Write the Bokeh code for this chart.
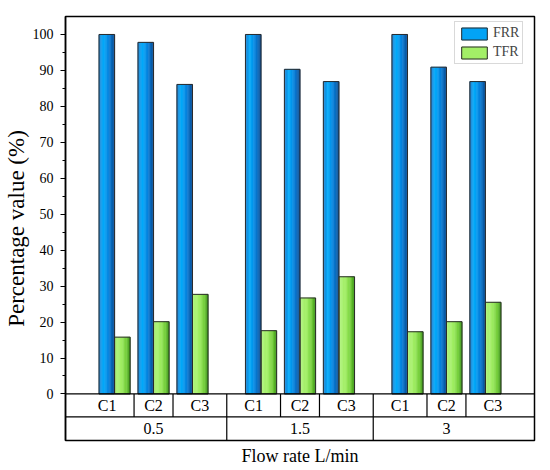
from bokeh.plotting import figure
from bokeh.models import (FactorRange, Range1d, ColumnDataSource, FixedTicker, Span,
                          Legend, LegendItem, Title)
from bokeh.transform import dodge
from bokeh.core.properties import value
from bokeh.embed import file_html
from bokeh.resources import INLINE

# ---- data ----
groups = ["0.5", "1.5", "3"]
cats = ["C1", "C2", "C3"]
FRR = [100, 97.8, 86.1, 100, 90.3, 86.9, 100, 90.9, 86.9]
TFR = [15.8, 20.1, 27.7, 17.6, 26.7, 32.6, 17.3, 20.1, 25.5]
y_ticks = [0, 10, 20, 30, 40, 50, 60, 70, 80, 90, 100]

FONT = "Liberation Serif"
factors = [(g, c) for g in groups for c in cats]
src = ColumnDataSource(dict(x=factors, FRR=FRR, TFR=TFR))

x_range = FactorRange(*factors, factor_padding=0.0, group_padding=0.76,
                      range_padding=0.76, range_padding_units="absolute")
ROW1 = -6.4
YMIN = -12.95
p = figure(x_range=x_range, y_range=Range1d(YMIN, 105.0),
           frame_width=469, frame_height=424,
           output_backend="svg", toolbar_location=None,
           min_border_top=16, min_border_right=5, min_border_left=0, min_border_bottom=0)
p.background_fill_color = "white"
p.border_fill_color = "white"
p.outline_line_color = "black"
p.outline_line_width = 1.5
p.xgrid.visible = False
p.ygrid.visible = False
p.xaxis.visible = False

yax = p.yaxis[0]
yax.ticker = FixedTicker(ticks=y_ticks, minor_ticks=[t + 5 for t in y_ticks[:-1]])
yax.axis_line_color = "black"
yax.axis_line_width = 1.5
yax.major_tick_in = 0
yax.major_tick_out = 5
yax.minor_tick_in = 0
yax.minor_tick_out = 3
yax.major_tick_line_width = 1.2
yax.minor_tick_line_width = 1.2
yax.major_label_standoff = 7
yax.major_label_text_font = FONT
yax.major_label_text_font_size = "14px"
yax.major_label_text_color = "black"
yax.axis_label = "Percentage value (%)"
yax.axis_label_text_font = FONT
yax.axis_label_text_font_size = "23px"
yax.axis_label_text_font_style = "normal"
yax.axis_label_text_color = "black"
yax.axis_label_standoff = 1


def lerp(stops, t):
    for (t0, c0), (t1, c1) in zip(stops[:-1], stops[1:]):
        if t0 <= t <= t1:
            f = (t - t0) / (t1 - t0) if t1 > t0 else 0
            return "#%02x%02x%02x" % tuple(int(round(a + (b - a) * f)) for a, b in zip(c0, c1))
    return "#%02x%02x%02x" % stops[-1][1]


blue_stops = [(0.0, (40, 125, 205)), (0.3, (0, 172, 252)), (0.65, (8, 128, 220)), (1.0, (10, 78, 150))]
green_stops = [(0.0, (178, 244, 128)), (0.45, (160, 238, 98)), (0.8, (112, 202, 55)), (1.0, (55, 145, 20))]

BW = 0.4
N = 12
sw = BW / N
mids = {}
for field, left, stops in (("FRR", -BW, blue_stops), ("TFR", 0.0, green_stops)):
    for k in range(N):
        t = (k + 0.5) / N
        c = lerp(stops, t)
        r = p.vbar(x=dodge("x", left + (k + 0.5) * sw, range=x_range), top=field, bottom=0,
                   width=sw * 1.05, source=src, fill_color=c, line_color=c, line_width=0.5)
        if k == N // 3:
            mids[field] = r

outlines = {}
for field, off in (("FRR", -BW / 2), ("TFR", BW / 2)):
    outlines[field] = p.vbar(x=dodge("x", off, range=x_range), top=field, bottom=0, width=BW,
                             source=src, fill_alpha=0, line_color="#2b2b2b", line_width=1)

# ---- category table below the bars ----
p.add_layout(Span(location=0, dimension="width", line_color="black", line_width=1.2))
p.add_layout(Span(location=ROW1, dimension="width", line_color="black", line_width=1.2))

cell_src = ColumnDataSource(dict(x=[(g, c) for g in groups for c in cats[:2]]))
p.segment(x0=dodge("x", 0.5, range=x_range), x1=dodge("x", 0.5, range=x_range),
          y0=ROW1, y1=0, source=cell_src, line_color="black", line_width=1.2)
grp_src = ColumnDataSource(dict(x=[(g, cats[-1]) for g in groups[:-1]]))
gap = 0.5 + 0.76 / 2
p.segment(x0=dodge("x", gap, range=x_range), x1=dodge("x", gap, range=x_range),
          y0=YMIN, y1=0, source=grp_src, line_color="black", line_width=1.2)

shift = (gap - 0.5) / 2
for ci, c in enumerate(cats):
    off = -shift if ci == 0 else (shift if ci == len(cats) - 1 else 0.0)
    ts = ColumnDataSource(dict(x=[(g, c) for g in groups], t=[c] * len(groups)))
    p.text(x=dodge("x", off, range=x_range), y=ROW1 / 2, text="t", source=ts,
           text_font=value(FONT), text_font_size="16px", text_align="center",
           text_baseline="middle", text_color="black")
gs = ColumnDataSource(dict(x=[(g, cats[1]) for g in groups], t=groups))
p.text(x="x", y=(ROW1 + YMIN) / 2, text="t", source=gs,
       text_font=value(FONT), text_font_size="16px", text_align="center",
       text_baseline="middle", text_color="black")

legend = Legend(items=[LegendItem(label="FRR", renderers=[mids["FRR"], outlines["FRR"]]),
                       LegendItem(label="TFR", renderers=[mids["TFR"], outlines["TFR"]])],
                location=(389, 376), margin=0, padding=3, spacing=3,
                glyph_width=32, glyph_height=15, label_height=15, label_standoff=3,
                label_text_font=FONT, label_text_font_size="14px",
                border_line_color="#b4b4b4", border_line_width=1,
                background_fill_color="white", background_fill_alpha=1)
p.add_layout(legend)

p.add_layout(Title(text="Flow rate L/min", align="center", text_font=FONT,
                   text_font_size="18px", text_font_style="normal", text_color="black",
                   standoff=6), "below")

open("out.html", "w").write(file_html(p, INLINE))
